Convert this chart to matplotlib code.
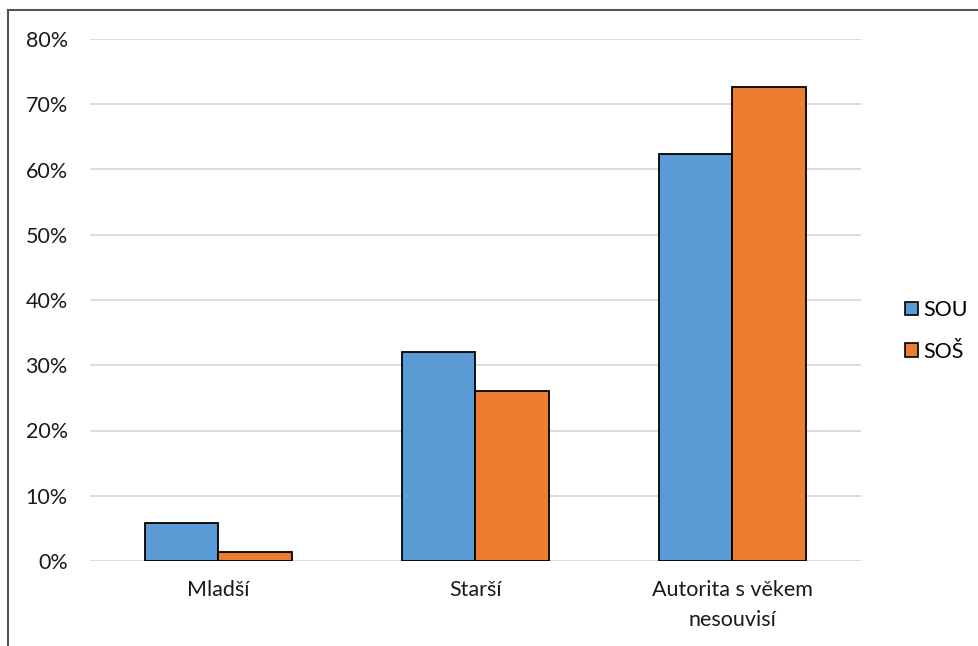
import numpy as np
import matplotlib.pyplot as plt
from matplotlib.lines import Line2D
from matplotlib.patches import Patch
from matplotlib.ticker import PercentFormatter

plt.rcParams['font.family'] = ['Lato', 'DejaVu Sans']

categories = ["Mladší", "Starší", "Autorita s věkem\nnesouvisí"]
series_names = ["SOU", "SOŠ"]
sou = [0.059, 0.320, 0.623]
sos = [0.014, 0.261, 0.726]
colors = ["#5B9BD5", "#ED7D31"]

fig = plt.figure(figsize=(9.79, 6.46), dpi=100)
ax = fig.add_axes([90 / 979, 1 - 561 / 646, 771 / 979, 522 / 646])

x = np.arange(len(categories))
w = 0.286
ax.bar(x - w / 2, sou, w, color=colors[0], edgecolor="black", linewidth=1.3, zorder=3)
ax.bar(x + w / 2, sos, w, color=colors[1], edgecolor="black", linewidth=1.3, zorder=3)

ax.set_xlim(-0.5, len(categories) - 0.5)
ax.set_ylim(0, 0.8)
ax.set_yticks(np.arange(0, 0.81, 0.1))
ax.yaxis.set_major_formatter(PercentFormatter(1.0, decimals=0))
ax.set_xticks(x)
ax.set_xticklabels(categories, fontsize=15.5, color="#1a1a1a", linespacing=1.6)
ax.tick_params(axis="y", labelsize=15.5, labelcolor="#1a1a1a", length=0, pad=16)
ax.tick_params(axis="x", length=0, pad=14)
ax.grid(axis="y", color="#d9d9d9", linewidth=1.3, zorder=0)
for s in ax.spines.values():
    s.set_visible(False)

handles = [Patch(facecolor=c, edgecolor="black", linewidth=1.2) for c in colors]
fig.legend(handles, series_names, loc="center left", bbox_to_anchor=(896 / 979, 1 - 331 / 646),
           frameon=False, fontsize=15.5, handlelength=0.6, handleheight=0.6,
           handletextpad=0.25, labelspacing=1.0, borderaxespad=0)

# frame edges along the top and left
fig.add_artist(Line2D([8.5 / 979, 1], [1 - 9.5 / 646] * 2, color="#555555", linewidth=1.5))
fig.add_artist(Line2D([8.5 / 979] * 2, [0, 1 - 9.5 / 646], color="#555555", linewidth=1.5))

fig.savefig("out.png", dpi=100, facecolor="white")
